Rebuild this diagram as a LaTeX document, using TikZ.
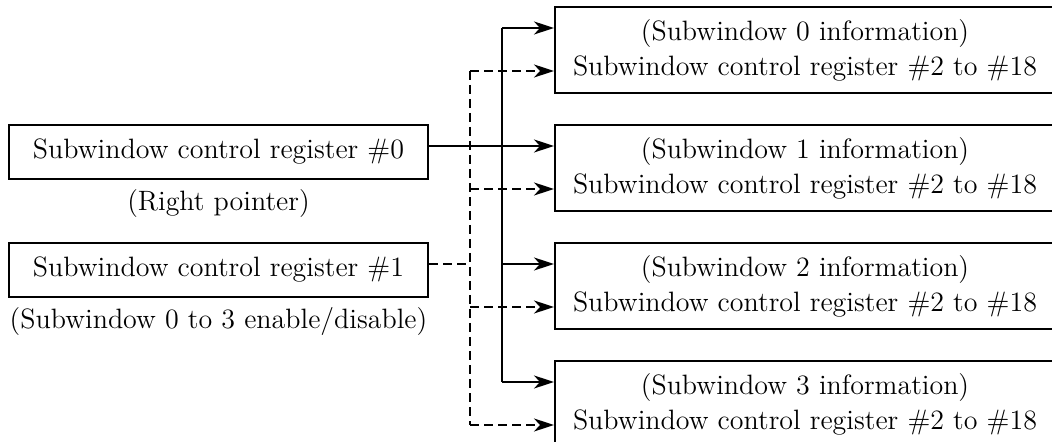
\documentclass[tikz,border=0pt]{standalone}
\usetikzlibrary{arrows.meta,positioning}

\begin{document}
\begin{tikzpicture}[x=0.5pt,y=-0.5pt,>={Stealth[length=10pt,width=6.5pt,inset=3pt]},
  line width=1pt,font=\fontsize{14}{17.5}\selectfont,
  reg node/.style={draw,minimum width=209.5pt,minimum height=27pt,inner sep=0pt},
  win node/.style={draw,minimum width=250pt,minimum height=43pt,inner sep=0pt,align=center},
  ctrl/.style={dash pattern=on 4.5pt off 2.5pt}]

  \useasboundingbox (0,0) rectangle (1052,442);

  % control registers
  \node[reg node] (r0) at (218.5,152) {Subwindow control register \#0};
  \node[reg node] (r1) at (218.5,270) {Subwindow control register \#1};
  \node[below=1pt of r0] (r0note) {(Right pointer)};
  \node[below=1pt of r1] (r1note) {(Subwindow 0 to 3 enable/disable)};

  % per-subwindow registers
  \foreach \i/\y in {0/50,1/168,2/286,3/404} {
    \node[win node] (w\i) at (805,\y)
      {(Subwindow \i\ information)\\Subwindow control register \#2 to \#18};
    \coordinate (s\i) at ([yshift=11pt]w\i.west);
    \coordinate (d\i) at ([yshift=-10.5pt]w\i.west);
  }

  \coordinate (bus) at (502,0);
  \coordinate (dbus) at (470,0);

  % pointer bus (solid) and enable bus (dashed)
  \draw (r0.east |- s1) -- (s1 -| bus);
  \draw (s0 -| bus) -- (s3 -| bus);
  \draw[ctrl] (r1.east |- s2) -- (s2 -| dbus);
  \draw[ctrl] (d0 -| dbus) -- (d3 -| dbus);
  \foreach \i in {0,...,3} {
    \draw[->] (s\i -| bus) -- (s\i);
    \draw[->,ctrl] (d\i -| dbus) -- (d\i);
  }
\end{tikzpicture}
\end{document}
